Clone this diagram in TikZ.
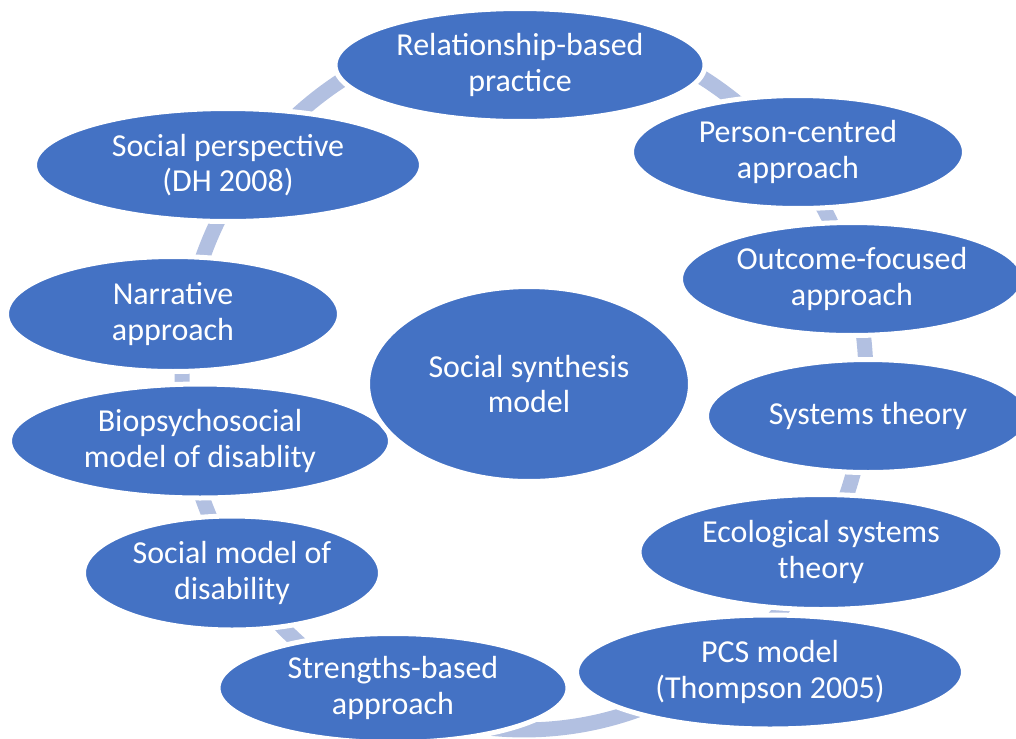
\documentclass[tikz,border=0pt]{standalone}
\usepackage{fontspec}
\setmainfont{Carlito}
\usetikzlibrary{shapes.geometric}

\definecolor{blueA}{RGB}{68,114,196}
\definecolor{ringA}{RGB}{178,192,225}

\begin{document}
\begin{tikzpicture}[x=0.02cm, y=-0.02cm,
    bubble/.style={ellipse, fill=blueA, draw=white, line width=0.1cm, text=white,
      align=center, inner sep=0pt, font=\fontsize{18.2}{20}\selectfont},
    ringline/.style={ringA, line width=0.3cm}]
                \useasboundingbox (0,0) rectangle (1016,738);

                % Vòng tròn nền
                \coordinate (ring) at (524,378);
                \draw[ringline] (ring) ellipse [x radius=6.84cm, y radius=7.04cm];

                % --- CÁC NÚT TRÊN VÒNG ---
                \node[bubble, minimum width=7.40cm, minimum height=2.26cm] (relb) at (520,65) {Relationship-based\\practice};
                \node[bubble, minimum width=6.66cm, minimum height=2.26cm] (pcen) at (798,152) {Person-centred\\approach};
                \node[bubble, minimum width=6.86cm, minimum height=2.26cm] (outf) at (852,279) {Outcome-focused\\approach};
                \node[bubble, minimum width=6.46cm, minimum height=2.26cm] (syst) at (868,416) {Systems theory};
                \node[bubble, minimum width=7.28cm, minimum height=2.30cm] (ecol) at (821,552) {Ecological systems\\theory};
                \node[bubble, minimum width=7.74cm, minimum height=2.28cm] (pcsm) at (770,672) {PCS model\\(Thompson 2005)};
                \node[bubble, minimum width=7.00cm, minimum height=2.18cm] (strb) at (393,688) {Strengths-based\\approach};
                \node[bubble, minimum width=5.94cm, minimum height=2.28cm] (smod) at (232,573) {Social model of\\disability};
                \node[bubble, minimum width=7.62cm, minimum height=2.28cm] (biop) at (200,441) {Biopsychosocial\\model of disablity};
                \node[bubble, minimum width=6.66cm, minimum height=2.30cm] (narr) at (173,314) {Narrative\\approach};
                \node[bubble, minimum width=7.74cm, minimum height=2.26cm] (sper) at (228,165) {Social perspective\\(DH 2008)};

                % Nút trung tâm
                \node[bubble, minimum width=6.46cm, minimum height=3.90cm] (core) at (529,384) {Social synthesis\\model};
\end{tikzpicture}
\end{document}
